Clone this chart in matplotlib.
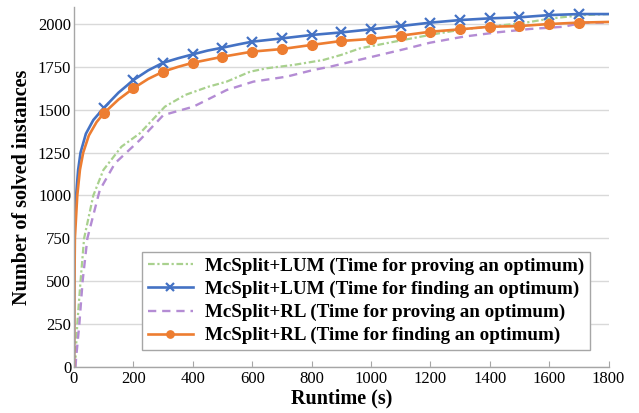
import numpy as np
import matplotlib
matplotlib.use('Agg')
import matplotlib.pyplot as plt

plt.rcParams['font.family'] = ['Liberation Serif', 'DejaVu Serif']

# McSplit+LUM, time for finding an optimum
lum_find_x = [0, 0.5, 1, 3, 7, 14, 22, 40, 65, 100, 150, 200, 250, 300, 350, 400, 450, 500,
              550, 600, 700, 800, 900, 1000, 1100, 1200, 1300, 1400, 1500, 1600, 1700, 1800]
lum_find_y = [0, 400, 750, 900, 1000, 1150, 1250, 1360, 1440, 1510, 1600, 1673, 1730, 1774, 1800,
              1823, 1845, 1862, 1880, 1897, 1916, 1936, 1951, 1969, 1988, 2008, 2023, 2033, 2039,
              2052, 2058, 2058]

# McSplit+RL, time for finding an optimum
rl_find_x = [0, 1, 3, 11, 20, 31, 50, 76, 100, 150, 200, 250, 300, 350, 400, 500, 600, 700,
             800, 900, 1000, 1100, 1200, 1300, 1400, 1500, 1600, 1700, 1800]
rl_find_y = [0, 400, 750, 1000, 1150, 1250, 1350, 1428, 1479, 1560, 1625, 1680, 1722, 1750, 1774,
             1809, 1839, 1854, 1878, 1901, 1913, 1932, 1955, 1969, 1984, 1988, 2000, 2008, 2012]

# McSplit+LUM, time for proving an optimum
lum_prove_x = [4, 7, 11, 22, 34, 65, 99, 160, 222, 306, 374, 452, 514, 593, 649, 738, 839, 900,
               963, 1109, 1210, 1311, 1423, 1507, 1608, 1715, 1800]
lum_prove_y = [0, 120, 250, 500, 750, 1000, 1149, 1285, 1363, 1518, 1586, 1634, 1664, 1722, 1742,
               1761, 1790, 1820, 1858, 1907, 1940, 1969, 1990, 2004, 2033, 2052, 2058]

# McSplit+RL, time for proving an optimum
rl_prove_x = [5, 7, 18, 29, 45, 82, 87, 138, 222, 301, 402, 514, 604, 716, 806, 862, 997, 1109,
              1199, 1311, 1423, 1535, 1648, 1715, 1800]
rl_prove_y = [0, 50, 250, 500, 750, 1000, 1032, 1188, 1324, 1469, 1518, 1615, 1664, 1693, 1732,
              1751, 1806, 1852, 1891, 1926, 1951, 1971, 1984, 2008, 2008]

marker_x = list(range(100, 1800, 100))

fig = plt.figure(figsize=(6.39, 4.13), dpi=100)
ax = fig.add_axes([0.1158, 0.1114, 0.8366, 0.872])

grid_c = '#d9d9d9'
ax.set_axisbelow(True)
ax.yaxis.grid(True, color=grid_c, linewidth=1.0)

lum_idx = list(np.where(np.isin(lum_find_x, marker_x))[0])
rl_idx = list(np.where(np.isin(rl_find_x, marker_x))[0])

ax.plot(lum_prove_x, lum_prove_y, color='#a9d18e', linestyle=(0, (3, 1.2, 1, 1.2)), linewidth=1.6,
        label='McSplit+LUM (Time for proving an optimum)')
ax.plot(lum_find_x, lum_find_y, color='#4472c4', linewidth=1.9, marker='x', markersize=7,
        markeredgewidth=1.6, markevery=lum_idx,
        label='McSplit+LUM (Time for finding an optimum)')
ax.plot(rl_prove_x, rl_prove_y, color='#b48cd4', linestyle=(0, (3.5, 2.5)), linewidth=1.7,
        label='McSplit+RL (Time for proving an optimum)')
ax.plot(rl_find_x, rl_find_y, color='#ed7d31', linewidth=1.9, marker='o', markersize=7,
        markevery=rl_idx,
        label='McSplit+RL (Time for finding an optimum)')

ax.set_xlim(0, 1800)
ax.set_ylim(0, 2100)
ax.set_xticks(range(0, 1801, 200))
ax.set_yticks(range(0, 2001, 250))

for s in ['top', 'right']:
    ax.spines[s].set_visible(False)
for s in ['left', 'bottom']:
    ax.spines[s].set_color('#a6a6a6')
    ax.spines[s].set_linewidth(1.0)

ax.tick_params(axis='x', direction='in', length=4, color='#a6a6a6', labelsize=12, pad=3)
ax.tick_params(axis='y', length=0, labelsize=12, pad=2)

ax.set_xlabel('Runtime (s)', fontsize=14.5, fontweight='bold', labelpad=1)
ax.set_ylabel('Number of solved instances', fontsize=14.5, fontweight='bold', labelpad=4)

leg = ax.legend(loc='lower left', bbox_to_anchor=(0.127, 0.047), borderaxespad=0,
                fancybox=False, edgecolor='#a6a6a6', framealpha=1, handlelength=2.4,
                labelspacing=0.3, borderpad=0.3, handletextpad=0.6, markerscale=0.75,
                prop={'size': 13.7, 'weight': 'bold'})
leg.get_frame().set_linewidth(1.0)

fig.savefig('out.png', dpi=100)
